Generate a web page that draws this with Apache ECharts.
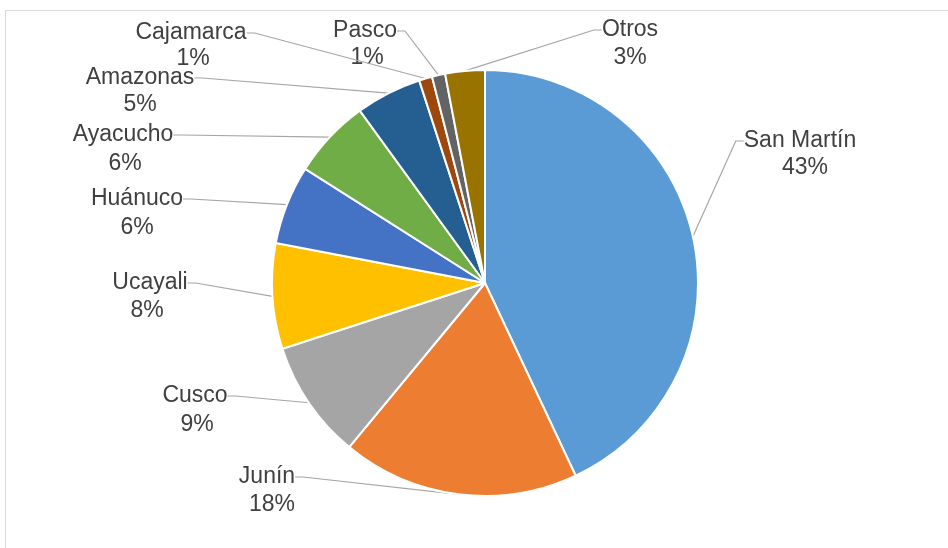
<!DOCTYPE html>
<html>
<head>
<meta charset="utf-8">
<script src="https://cdn.jsdelivr.net/npm/echarts@6/dist/echarts.min.js"></script>
<style>
html,body{margin:0;padding:0;background:#fff;}
#frame{position:absolute;left:5px;top:10px;width:1000px;height:600px;border:1px solid #d9d9d9;box-sizing:border-box;}
#chart{position:absolute;left:0;top:0;width:948px;height:548px;}
</style>
</head>
<body>
<div id="frame"></div>
<div id="chart"></div>
<script>
const categories = ['San Martín','Junín','Cusco','Ucayali','Huánuco','Ayacucho','Amazonas','Cajamarca','Pasco','Otros'];
const values = [43, 18, 9, 8, 6, 6, 5, 1, 1, 3];
const colors = ['#5B9BD5','#ED7D31','#A5A5A5','#FFC000','#4472C4','#70AD47','#255E91','#9E480E','#636363','#997300'];

// label placement (pixel centres of the name line and of the percentage line), kept apart from data
const nameLabelPos = [[800,141],[267,477],[195,396],[150,283],[137,199],[123,135],[140,78],[191,33],[365,31],[630,30]];
const pctLabelPos  = [[805,168],[272,505],[197,425],[147,311],[137,228],[125,164],[140,105],[193,59],[367,58],[630,58]];

const baseData = categories.map((c, i) => ({ name: c, value: values[i] }));
const textStyle = {
  fontFamily: 'Liberation Sans, Arial, sans-serif',
  fontSize: 23,
  color: '#404040',
  align: 'center',
  verticalAlign: 'middle'
};

const chart = echarts.init(document.getElementById('chart'));
chart.setOption({
  animation: false,
  color: colors,
  series: [{
    type: 'pie',
    z: 2,
    center: [485, 283],
    radius: 213,
    startAngle: 90,
    clockwise: true,
    avoidLabelOverlap: false,
    itemStyle: { borderColor: '#fff', borderWidth: 2 },
    label: Object.assign({ show: true, formatter: p => p.name }, textStyle),
    labelLayout: function (params) {
      const p = nameLabelPos[params.dataIndex];
      return { x: p[0], y: p[1], align: 'center', verticalAlign: 'middle' };
    },
    labelLine: { show: true, length: 20, length2: 8, lineStyle: { color: '#a6a6a6', width: 1.2 } },
    data: baseData
  }, {
    type: 'pie',
    z: 1,
    silent: true,
    center: [485, 283],
    radius: 213,
    startAngle: 90,
    clockwise: true,
    avoidLabelOverlap: false,
    itemStyle: { color: 'rgba(0,0,0,0)', borderWidth: 0 },
    label: Object.assign({ show: true, formatter: p => Math.round(p.percent) + '%' }, textStyle),
    labelLayout: function (params) {
      const p = pctLabelPos[params.dataIndex];
      return { x: p[0], y: p[1], align: 'center', verticalAlign: 'middle' };
    },
    labelLine: { show: false },
    data: baseData
  }]
});
</script>
</body>
</html>
